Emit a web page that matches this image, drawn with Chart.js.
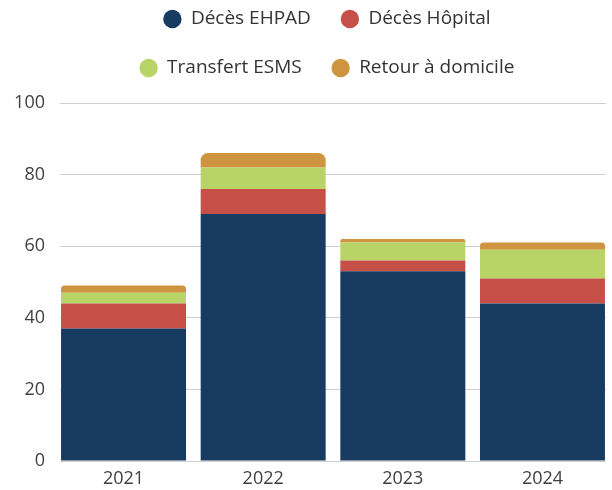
<!DOCTYPE html>
<html lang="fr">
<head>
<meta charset="utf-8">
<title>Sorties par motif</title>
<script src="https://cdn.jsdelivr.net/npm/chart.js@4.4.1/dist/chart.umd.min.js"></script>
<style>
  html, body { margin: 0; padding: 0; background: #fff; }
  #wrap { position: relative; width: 612px; height: 490px; }
</style>
</head>
<body>
<div id="wrap"><canvas id="chart" width="612" height="490"></canvas></div>
<script>
// --- données ---
const YEARS = ['2021', '2022', '2023', '2024'];
const DECES_EHPAD = [37, 69, 53, 44];
const DECES_HOPITAL = [7, 7, 3, 7];
const TRANSFERT_ESMS = [3, 6, 5, 8];
const RETOUR_DOMICILE = [2, 4, 1, 2];
const Y_TICKS = [0, 20, 40, 60, 80, 100];

const FONT = "'Open Sans', 'Noto Sans', sans-serif";

// barres posées sur un axe linéaire (1..4) pour coller aux marges d'origine
function toPoints(values) {
    return values.map((v, i) => ({ x: i + 1, y: v }));
}

function makeDataset(label, values, color, extra) {
    return Object.assign({
        label: label,
        data: toPoints(values),
        backgroundColor: color,
        borderWidth: 0,
        stack: 'total',
        categoryPercentage: 1,
        barPercentage: 0.895
    }, extra || {});
}

// légende sur deux lignes, centrée sur la zone du graphique
const legendLayout = {
    id: 'legendLayout',
    afterInit(chart) {
        const lg = chart.legend;
        if (!lg) return;
        const fitRows = lg._fitRows;
        lg._fitRows = function (...args) {
            const full = this.maxWidth;
            this.maxWidth = 500;
            const h = fitRows.apply(this, args);
            this.maxWidth = full;
            return h;
        };
        const fit = lg.fit;
        lg.fit = function () {
            fit.call(this);
            this.height = 103;
        };
    },
    afterLayout(chart) {
        const lg = chart.legend;
        if (!lg) return;
        lg.top = -20.5;
        lg.left = 48;
    }
};

new Chart(document.getElementById('chart'), {
    type: 'bar',
    data: {
        datasets: [
            makeDataset('Décès EHPAD', DECES_EHPAD, '#183b61'),
            makeDataset('Décès Hôpital', DECES_HOPITAL, '#c64f48'),
            makeDataset('Transfert ESMS', TRANSFERT_ESMS, '#b9d466'),
            makeDataset('Retour à domicile', RETOUR_DOMICILE, '#cf943f', {
                borderRadius: { topLeft: 8, topRight: 8, bottomLeft: 0, bottomRight: 0 },
                borderSkipped: 'start'
            })
        ]
    },
    options: {
        responsive: false,
        animation: false,
        layout: { padding: { left: 0, right: 6, top: 0, bottom: 0 } },
        scales: {
            x: {
                type: 'linear',
                min: 0.545,
                max: 4.455,
                offset: false,
                grid: { display: false, drawTicks: false },
                border: { display: false },
                afterBuildTicks: (scale) => {
                    scale.ticks = YEARS.map((_, i) => ({ value: i + 1 }));
                },
                afterFit: (scale) => { scale.height = 29; },
                ticks: {
                    padding: 7,
                    maxRotation: 0,
                    color: '#404040',
                    font: { family: FONT, size: 18 },
                    callback: (value) => YEARS[value - 1] || ''
                }
            },
            y: {
                stacked: true,
                min: 0,
                max: 100,
                afterFit: (scale) => { scale.width = 60; },
                afterBuildTicks: (scale) => {
                    scale.ticks = Y_TICKS.map(v => ({ value: v }));
                },
                grid: { color: '#cfcfcf', lineWidth: 1, drawTicks: false },
                border: { display: false },
                ticks: {
                    padding: 15,
                    color: '#404040',
                    font: { family: FONT, size: 18 }
                }
            }
        },
        plugins: {
            legend: {
                position: 'top',
                labels: {
                    usePointStyle: true,
                    pointStyle: 'circle',
                    boxWidth: 18,
                    boxHeight: 13,
                    padding: 30,
                    color: '#333333',
                    font: { family: FONT, size: 19 }
                }
            },
            tooltip: { enabled: false }
        }
    },
    plugins: [legendLayout]
});
</script>
</body>
</html>
